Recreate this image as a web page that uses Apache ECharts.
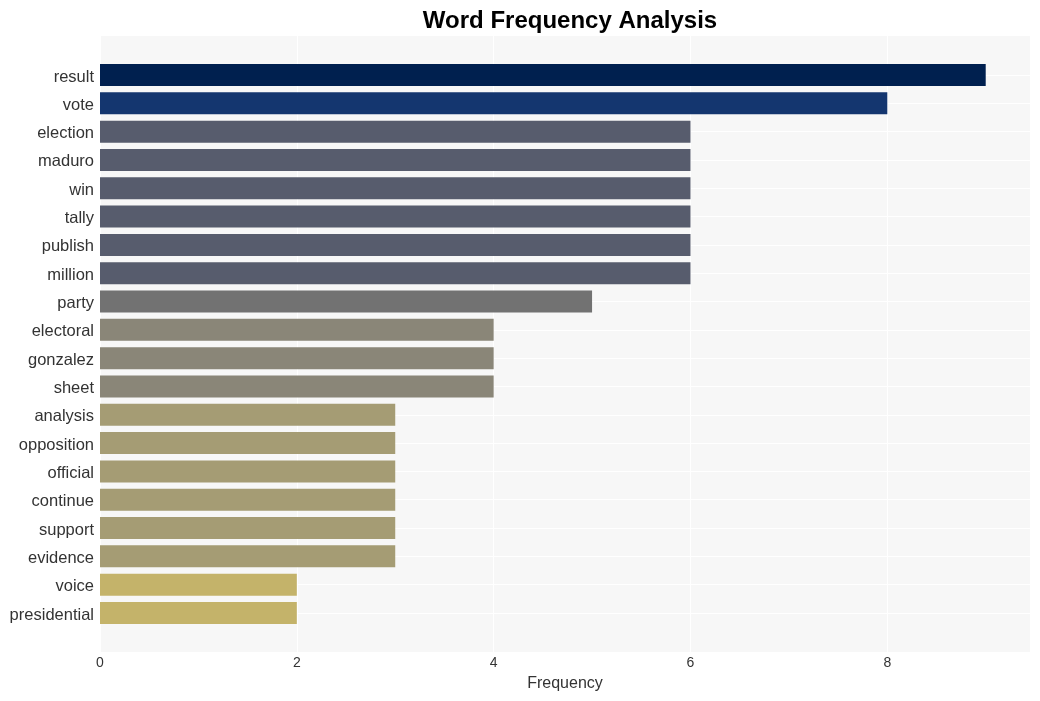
<!DOCTYPE html>
<html>
<head>
<meta charset="utf-8">
<script src="https://cdn.jsdelivr.net/npm/echarts@6/dist/echarts.min.js"></script>
<style>html,body{margin:0;padding:0;background:#fff}#c{width:1040px;height:701px}</style>
</head>
<body>
<div id="c"></div>
<script>
const categories = ["result","vote","election","maduro","win","tally","publish","million","party","electoral","gonzalez","sheet","analysis","opposition","official","continue","support","evidence","voice","presidential"];
const values = [9,8,6,6,6,6,6,6,5,4,4,4,3,3,3,3,3,3,2,2];
const xTicks = [0,2,4,6,8];
const colorByValue = {9:"#00204f",8:"#14366f",6:"#575c6d",5:"#727272",4:"#8a8678",3:"#a59c74",2:"#c4b36a"};

const chart = echarts.init(document.getElementById('c'));
const font = "'Liberation Sans', Arial, sans-serif";
chart.setOption({
  animation: false,
  title: {
    text: "Word Frequency Analysis",
    left: 565, top: 4, textAlign: 'center',
    textStyle: {fontFamily: font, fontSize: 24, fontWeight: 'bold', color: '#000'}
  },
  grid: [
    {left: 100, right: 10, top: 36, bottom: 49, show: true, backgroundColor: '#f7f7f7', borderWidth: 0},
    {left: 100, right: 10, top: 75, bottom: 88}
  ],
  xAxis: [
    {type: 'value', gridIndex: 0, min: 0, max: 9.45, interval: 2,
     axisLine: {show: false}, axisTick: {show: false},
     splitLine: {show: true, lineStyle: {color: '#ffffff', width: 1}},
     axisLabel: {fontFamily: font, fontSize: 14, color: '#333', margin: 4,
       formatter: v => xTicks.includes(v) ? String(v) : ''},
     name: 'Frequency', nameLocation: 'middle', nameGap: 24,
     nameTextStyle: {fontFamily: font, fontSize: 16, color: '#333'}},
    {type: 'value', gridIndex: 1, min: 0, max: 9.45, show: false}
  ],
  yAxis: [
    {type: 'category', gridIndex: 0, data: categories, show: false},
    {type: 'category', gridIndex: 1, data: categories, inverse: true, boundaryGap: false,
     axisLine: {show: false}, axisTick: {show: false},
     splitLine: {show: true, lineStyle: {color: '#ffffff', width: 1}},
     axisLabel: {fontFamily: font, fontSize: 16.5, color: '#333', margin: 6, interval: 0,
       formatter: v => '{a|' + v + '}',
       rich: {a: {fontFamily: font, fontSize: 16.5, color: '#333', padding: [4, 0, 0, 0]}}}}
  ],
  series: [{
    type: 'bar', xAxisIndex: 1, yAxisIndex: 1, barWidth: 22, clip: false,
    data: values.map(v => ({value: v, itemStyle: {color: colorByValue[v]}}))
  }]
});
</script>
</body>
</html>
